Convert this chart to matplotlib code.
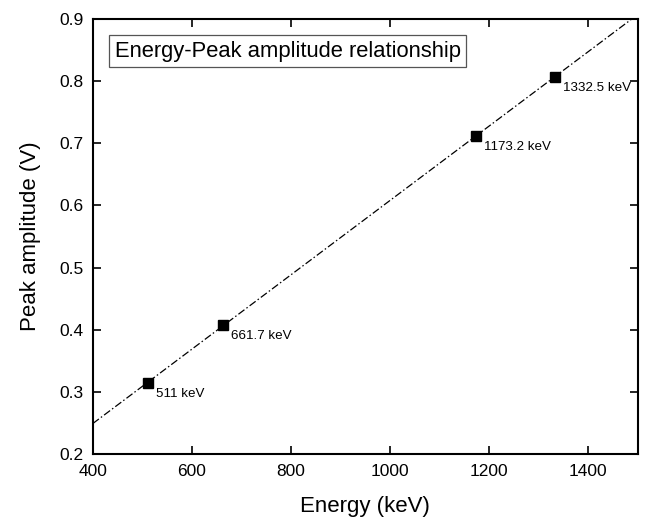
import matplotlib
matplotlib.use("Agg")
import matplotlib.pyplot as plt
import numpy as np

plt.rcParams["font.family"] = ["Liberation Sans", "DejaVu Sans"]

energy = [511, 661.7, 1173.2, 1332.5]
amplitude = [0.314, 0.408, 0.712, 0.806]
labels = ["511 keV", "661.7 keV", "1173.2 keV", "1332.5 keV"]

fig = plt.figure(figsize=(6.45, 5.18), dpi=100)
ax = fig.add_axes([0.144, 0.123, 0.845, 0.841])

# linear fit drawn across the full x range
k, b = np.polyfit(energy, amplitude, 1)
xf = np.array([400, 1500])
ax.plot(xf, k * xf + b, color="black", lw=0.9, linestyle=(0, (6, 2, 1.2, 2)))

ax.plot(energy, amplitude, "s", color="black", ms=7)
for x, y, t in zip(energy, amplitude, labels):
    ax.annotate(t, (x, y), xytext=(6, -8), textcoords="offset points",
                ha="left", va="center", fontsize=9.6)

ax.set_xlim(400, 1500)
ax.set_ylim(0.2, 0.9)
ax.set_xticks(np.arange(400, 1401, 200))
ax.set_yticks(np.arange(0.2, 0.91, 0.1))
ax.tick_params(direction="in", length=6, width=1.2, top=True, right=True,
               labelsize=12.5)
ax.tick_params(axis="x", pad=7)
ax.tick_params(axis="y", pad=7)
for s in ax.spines.values():
    s.set_linewidth(1.5)

ax.set_xlabel("Energy (keV)", fontsize=16, labelpad=12)
ax.set_ylabel("Peak amplitude (V)", fontsize=16, labelpad=13)

ax.text(0.04, 0.925, "Energy-Peak amplitude relationship", transform=ax.transAxes,
        ha="left", va="center", fontsize=15.8,
        bbox=dict(boxstyle="square,pad=0.25", fc="white", ec="#555555", lw=0.9))

fig.savefig("out.png", dpi=100)
